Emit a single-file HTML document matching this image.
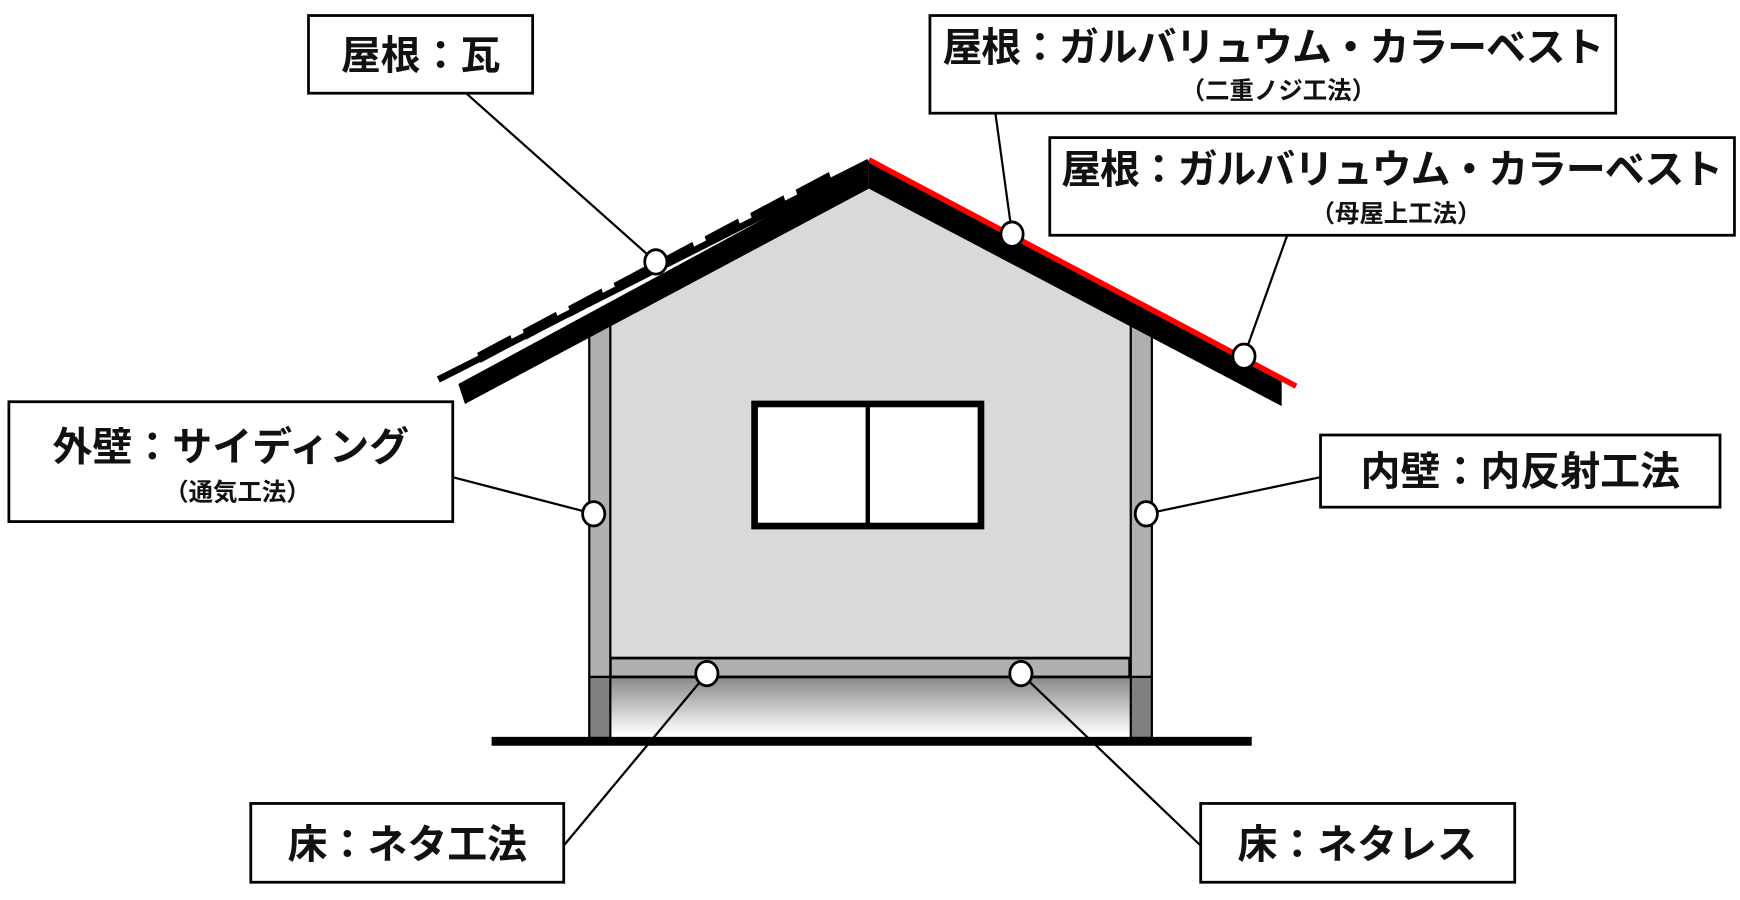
<!DOCTYPE html>
<html><head><meta charset="utf-8"><style>
html,body{margin:0;padding:0;background:#fff;}
svg{display:block}
text{font-family:"Liberation Sans","Noto Sans CJK JP",sans-serif;font-weight:bold;fill:#111}
</style></head><body>
<svg width="1740" height="900" viewBox="0 0 1568 811" preserveAspectRatio="none" xmlns="http://www.w3.org/2000/svg">
<defs>
<linearGradient id="g" x1="0" y1="0" x2="0" y2="1">
<stop offset="0" stop-color="#888"/><stop offset="1" stop-color="#fff"/>
</linearGradient>
</defs>
<polygon points="550,292 783,163 1020,292 1020,600 550,600" fill="#d9d9d9"/>
<rect x="550" y="610" width="468" height="52" fill="url(#g)"/>
<rect x="550" y="593" width="468" height="17" fill="#b0b0b0" stroke="#000" stroke-width="2.5"/>
<rect x="531" y="292" width="19" height="318" fill="#b0b0b0" stroke="#000" stroke-width="2"/>
<rect x="531" y="610" width="19" height="55" fill="#808080" stroke="#000" stroke-width="2"/>
<rect x="1019" y="292" width="19" height="318" fill="#b0b0b0" stroke="#000" stroke-width="2"/>
<rect x="1019" y="610" width="19" height="55" fill="#808080" stroke="#000" stroke-width="2"/>
<rect x="443" y="664" width="685" height="8" fill="#000"/>
<rect x="680" y="364" width="204" height="110" fill="#fff" stroke="#000" stroke-width="6"/>
<line x1="782" y1="364" x2="782" y2="474" stroke="#000" stroke-width="4"/>
<!-- roof -->
<polygon points="413,346 783,146 783,170 419,364" fill="#000"/>
<polygon points="783,146 1155,344 1155,366 783,170" fill="#000"/>
<line x1="783" y1="144" x2="1168" y2="348" stroke="#f00" stroke-width="5"/>
<line x1="395" y1="342" x2="783" y2="146" stroke="#000" stroke-width="6"/>
<g fill="#000">
<polygon points="430,318 460,302 463,311 433,327"/>
<polygon points="471,297 501,281 504,290 474,306"/>
<polygon points="512,276 542,260 545,269 515,285"/>
<polygon points="553,255 583,239 586,248 556,264"/>
<polygon points="594,234 624,218 627,227 597,243"/>
<polygon points="635,213 665,197 668,206 638,222"/>
<polygon points="676,192 706,176 709,185 679,201"/>
<polygon points="717,171 747,155 750,164 720,180"/>
</g>
<g stroke="#000" stroke-width="2" fill="none">
<line x1="420" y1="84" x2="591" y2="236"/>
<line x1="897" y1="102" x2="912" y2="211"/>
<line x1="1160" y1="212" x2="1121" y2="321"/>
<line x1="408" y1="430" x2="535" y2="463"/>
<line x1="1190" y1="430" x2="1033" y2="463"/>
<line x1="508" y1="762" x2="637" y2="607"/>
<line x1="1082" y1="762" x2="920" y2="607"/>
</g>
<g fill="#fff" stroke="#000" stroke-width="2.5">
<ellipse cx="591" cy="236" rx="10" ry="11"/>
<ellipse cx="912" cy="211" rx="10" ry="11"/>
<ellipse cx="1121" cy="321" rx="10" ry="11"/>
<ellipse cx="535" cy="463" rx="10" ry="11"/>
<ellipse cx="1033" cy="463" rx="10" ry="11"/>
<ellipse cx="637" cy="607" rx="10" ry="11"/>
<ellipse cx="920" cy="607" rx="10" ry="11"/>
</g>
<g fill="#fff" stroke="#000" stroke-width="2.5">
<rect x="278" y="14" width="202" height="70"/>
<rect x="838" y="14" width="618" height="88"/>
<rect x="946" y="124" width="617" height="88"/>
<rect x="8" y="362" width="400" height="108"/>
<rect x="1190" y="392" width="360" height="65"/>
<rect x="226" y="724" width="282" height="71"/>
<rect x="1082" y="724" width="283" height="71"/>
</g>
<text x="379" y="62" font-size="36" text-anchor="middle">屋根：瓦</text>
<text x="1147" y="55" font-size="36" text-anchor="middle" letter-spacing="-1">屋根：ガルバリュウム・カラーベスト</text>
<text x="1152" y="89" font-size="22" text-anchor="middle">（二重ノジ工法）</text>
<text x="1254" y="165" font-size="36" text-anchor="middle" letter-spacing="-1">屋根：ガルバリュウム・カラーベスト</text>
<text x="1258" y="200" font-size="22" text-anchor="middle">（母屋上工法）</text>
<text x="208" y="415" font-size="36" text-anchor="middle">外壁：サイディング</text>
<text x="214" y="451" font-size="22" text-anchor="middle">（通気工法）</text>
<text x="1370" y="437" font-size="36" text-anchor="middle">内壁：内反射工法</text>
<text x="367" y="773" font-size="36" text-anchor="middle">床：ネタ工法</text>
<text x="1223" y="773" font-size="36" text-anchor="middle">床：ネタレス</text>
</svg>
</body></html>
